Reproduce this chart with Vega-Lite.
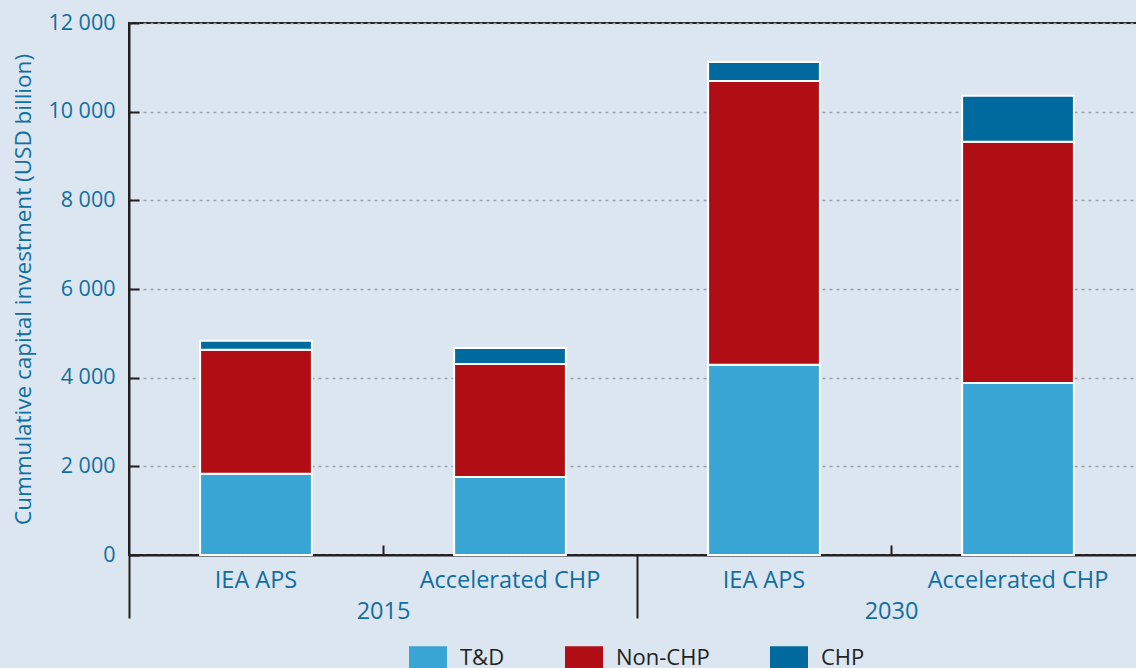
{
  "$schema": "https://vega.github.io/schema/vega-lite/v6.json",
  "width": 1016,
  "height": 532,
  "autosize": {"type": "none"},
  "padding": {"left": 129, "top": 23, "right": 0, "bottom": 113},
  "background": "#DCE6F0",
  "data": {
    "values": [
      {"year": "2015", "scenario": "IEA APS", "key": "2015|IEA APS", "component": "T&D", "order": 1, "value": 1830},
      {"year": "2015", "scenario": "IEA APS", "key": "2015|IEA APS", "component": "Non-CHP", "order": 2, "value": 2800},
      {"year": "2015", "scenario": "IEA APS", "key": "2015|IEA APS", "component": "CHP", "order": 3, "value": 200},
      {"year": "2015", "scenario": "Accelerated CHP", "key": "2015|Accelerated CHP", "component": "T&D", "order": 1, "value": 1760},
      {"year": "2015", "scenario": "Accelerated CHP", "key": "2015|Accelerated CHP", "component": "Non-CHP", "order": 2, "value": 2550},
      {"year": "2015", "scenario": "Accelerated CHP", "key": "2015|Accelerated CHP", "component": "CHP", "order": 3, "value": 360},
      {"year": "2030", "scenario": "IEA APS", "key": "2030|IEA APS", "component": "T&D", "order": 1, "value": 4290},
      {"year": "2030", "scenario": "IEA APS", "key": "2030|IEA APS", "component": "Non-CHP", "order": 2, "value": 6400},
      {"year": "2030", "scenario": "IEA APS", "key": "2030|IEA APS", "component": "CHP", "order": 3, "value": 430},
      {"year": "2030", "scenario": "Accelerated CHP", "key": "2030|Accelerated CHP", "component": "T&D", "order": 1, "value": 3880},
      {"year": "2030", "scenario": "Accelerated CHP", "key": "2030|Accelerated CHP", "component": "Non-CHP", "order": 2, "value": 5440},
      {"year": "2030", "scenario": "Accelerated CHP", "key": "2030|Accelerated CHP", "component": "CHP", "order": 3, "value": 1040}
    ]
  },
  "layer": [
    {
      "mark": {"type": "bar", "stroke": "white", "strokeWidth": 2},
      "encoding": {
        "x": {
          "field": "key",
          "type": "nominal",
          "sort": ["2015|IEA APS", "2015|Accelerated CHP", "2030|IEA APS", "2030|Accelerated CHP"],
          "scale": {"paddingInner": 0.56, "paddingOuter": 0.28},
          "axis": {
            "orient": "bottom",
            "title": null,
            "labelExpr": "split(datum.label, '|')[1]",
            "labelAngle": 0,
            "labelLimit": 0,
            "tickSize": -10,
            "tickOpacity": 0,
            "domainColor": "#231F20",
            "domainWidth": 2,
            "labelPadding": 23,
            "labelFontSize": 23.5,
            "labelColor": "#106EA0",
            "labelFont": "Open Sans",
            "grid": false
          }
        },
        "y": {
          "field": "value",
          "type": "quantitative",
          "stack": "zero",
          "scale": {"domain": [0, 12000]},
          "axis": {
            "title": "Cummulative capital investment (USD billion)",
            "titleFont": "Open Sans",
            "titleFontSize": 22.5,
            "titleFontWeight": "normal",
            "titleColor": "#106EA0",
            "titlePadding": 12,
            "values": [0, 2000, 4000, 6000, 8000, 10000, 12000],
            "labelExpr": "replace(format(datum.value, ','), ',', ' ')",
            "labelFont": "Open Sans",
            "labelFontSize": 21.5,
            "labelColor": "#106EA0",
            "labelPadding": 24,
            "tickSize": -10,
            "tickColor": "#231F20",
            "tickWidth": 2,
            "domainColor": "#231F20",
            "domainWidth": 2,
            "grid": true,
            "gridColor": "#9AA0A8",
            "gridDash": [3, 4],
            "gridWidth": 1.5
          }
        },
        "color": {
          "field": "component",
          "type": "nominal",
          "scale": {"domain": ["T&D", "Non-CHP", "CHP"], "range": ["#38A5D5", "#B00D15", "#006A9E"]},
          "legend": {
            "title": null,
            "orient": "bottom",
            "direction": "horizontal",
            "symbolType": "M-1,-0.62H1V0.62H-1Z",
            "symbolSize": 1444,
            "symbolStrokeWidth": 0,
            "symbolOpacity": 1,
            "labelFont": "Open Sans",
            "labelFontSize": 22,
            "labelColor": "#222222",
            "labelOffset": 13,
            "labelLimit": 0,
            "columnPadding": 60,
            "offset": 16
          }
        },
        "order": {"field": "order", "type": "quantitative"}
      }
    },
    {
      "mark": {"type": "point", "opacity": 0},
      "encoding": {
        "x": {
          "field": "year",
          "type": "nominal",
          "scale": {"type": "band", "paddingInner": 0, "paddingOuter": 0},
          "axis": {
            "orient": "bottom",
            "title": null,
            "domain": false,
            "labelAngle": 0,
            "tickBand": "extent",
            "tickSize": 63,
            "tickColor": "#231F20",
            "tickWidth": 2,
            "labelPadding": -19,
            "labelFontSize": 23.5,
            "labelColor": "#106EA0",
            "labelFont": "Open Sans",
            "grid": false
          }
        }
      }
    },
    {
      "mark": {"type": "point", "opacity": 0},
      "encoding": {
        "x": {
          "field": "year",
          "type": "nominal",
          "scale": {"type": "band", "paddingInner": 0, "paddingOuter": 0},
          "axis": {
            "orient": "bottom",
            "title": null,
            "domain": false,
            "labels": false,
            "tickSize": -10,
            "tickColor": "#231F20",
            "tickWidth": 2,
            "grid": false
          }
        }
      }
    }
  ],
  "resolve": {"scale": {"x": "independent"}, "axis": {"x": "independent"}},
  "config": {
    "view": {"stroke": "#231F20", "strokeWidth": 2},
    "legend": {"layout": {"bottom": {"anchor": "middle"}}}
  }
}
